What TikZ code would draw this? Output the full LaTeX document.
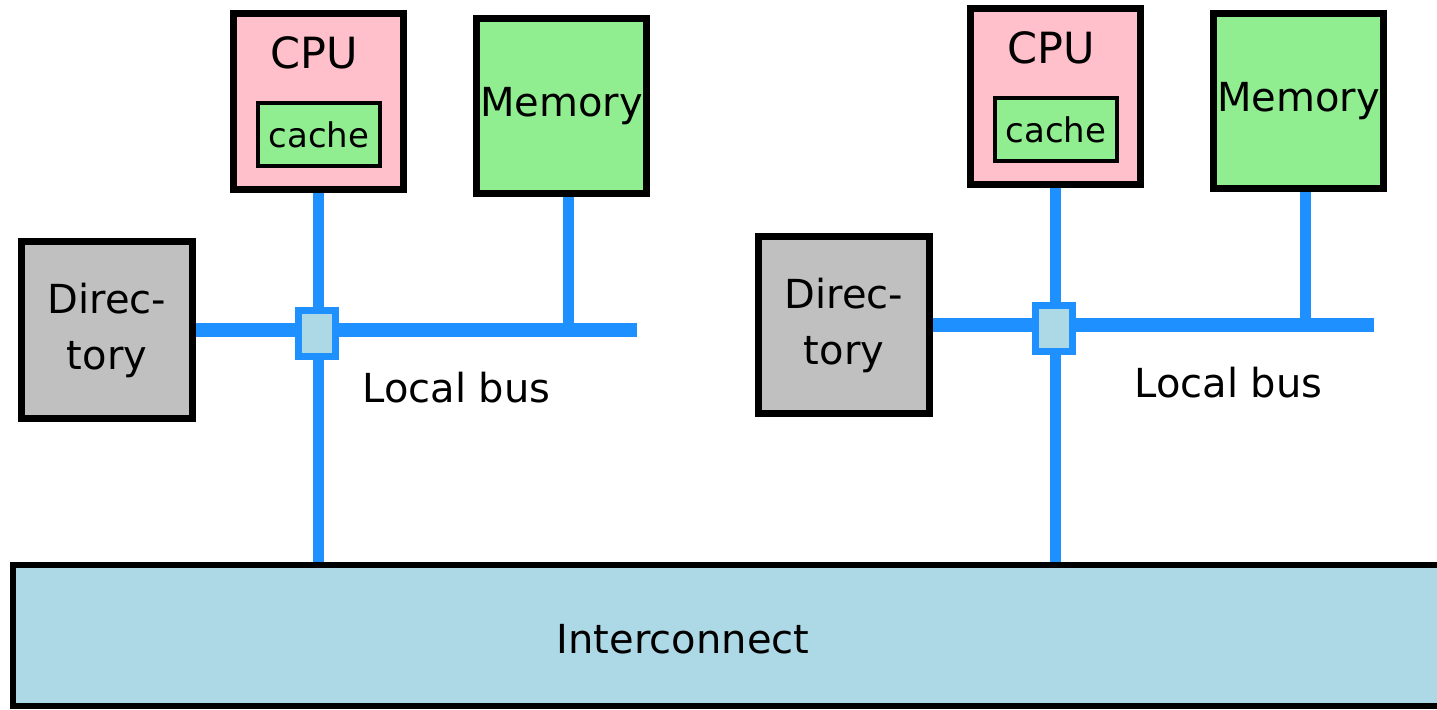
\documentclass[tikz,border=0pt]{standalone}
\usepackage{fontspec}
\setmainfont{DejaVu Sans}
\usetikzlibrary{backgrounds}

\definecolor{cpupink}{HTML}{FFC0CB}
\definecolor{memgreen}{HTML}{90EE90}
\definecolor{dirgray}{HTML}{C0C0C0}
\definecolor{busblue}{HTML}{1E90FF}
\definecolor{netblue}{HTML}{ADD8E6}

\tikzset{
  lbl/.style={inner sep=0pt, font=\fontsize{20}{24}\selectfont},
  box/.style={rectangle, draw=black, line width=3.5pt, inner sep=0pt},
  cpubox/.style={box, fill=cpupink, minimum width=85pt, minimum height=88pt},
  cachebox/.style={rectangle, draw=black, line width=2pt, fill=memgreen, inner sep=0pt,
    minimum width=61pt, minimum height=31.5pt, font=\fontsize{17}{20}\selectfont},
  membox/.style={box, lbl, fill=memgreen, minimum width=85pt, minimum height=87.5pt},
  dirbox/.style={box, fill=dirgray, minimum width=85.5pt, minimum height=88.5pt,
    align=center, font=\fontsize{20}{28}\selectfont},
  hub/.style={rectangle, draw=busblue, line width=3.5pt, fill=netblue, inner sep=0pt,
    minimum width=18.5pt, minimum height=23pt},
  netbox/.style={rectangle, draw=black, line width=3pt, fill=netblue, inner sep=0pt,
    minimum width=718.5pt, minimum height=70.5pt},
  bus/.style={draw=busblue, line width=7pt},
  tap/.style={draw=busblue, line width=5.5pt},
}

% One node of the machine: CPU with cache, memory, directory and local bus.
% #1 = name prefix, #2 = x of the "Local bus" label
\newcommand\smpgroup[2]{%
  \node[cpubox] (#1cpu) at (318.5,101.5) {};
  \node[lbl, anchor=base, font=\fontsize{21.5}{24}\selectfont] (#1cputxt) at (314,68) {CPU};
  \node[cachebox] (#1cache) at (319,134.5) {cache};
  \node[membox] (#1mem) at (561.5,106) {Memory};
  \node[dirbox] (#1dir) at (107,330) {Direc-\\tory};
  \node[hub] (#1hub) at (317,333.5) {};
  \coordinate (#1busend) at (637,329.5);
  \coordinate (#1memtap) at (568.5,329.5);
  \node[lbl, anchor=base west] (#1buslbl) at (#2,402) {Local bus};
  \begin{scope}[on background layer]
    \draw[bus] (#1dir.east |- #1busend) -- (#1busend);
    \draw[tap] (#1cpu.south) -- (#1cpu.south |- net.north);
    \draw[tap] (#1mem.south -| #1memtap) -- (#1memtap);
  \end{scope}
}

\begin{document}
\begin{tikzpicture}[x=0.5pt,y=-0.5pt]
  \useasboundingbox (0,0) rectangle (1437,709);

  % global interconnect
  \node[netbox] (net) at (731.5,635.5) {};
  \node[lbl, anchor=base] (nettxt) at (683,653) {Interconnect};

  % two processing nodes
  \smpgroup{L}{362}
  \begin{scope}[shift={(737,-5)}]
    \smpgroup{R}{397}
  \end{scope}
\end{tikzpicture}
\end{document}
